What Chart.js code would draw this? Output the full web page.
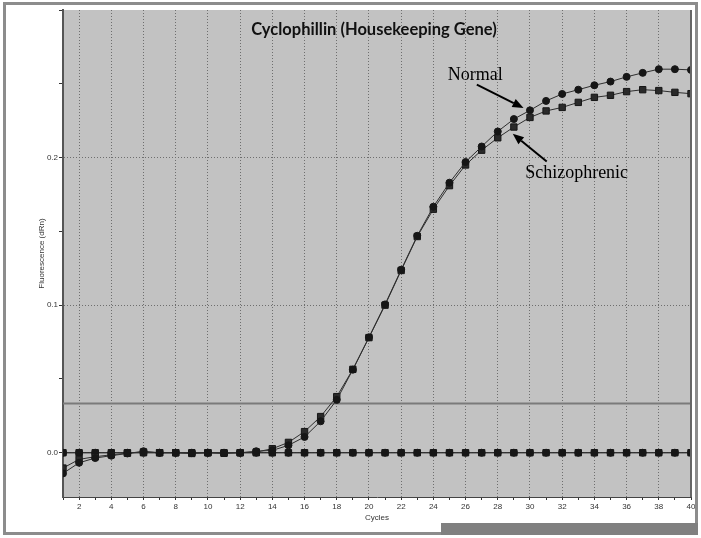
<!DOCTYPE html>
<html>
<head>
<meta charset="utf-8">
<title>Cyclophillin (Housekeeping Gene)</title>
<script src="https://cdn.jsdelivr.net/npm/chart.js@4/dist/chart.umd.min.js"></script>
<style>
  html, body { margin: 0; padding: 0; background: #fff; }
  #wrap { width: 701px; height: 538px; }
</style>
</head>
<body>
<div id="wrap"><canvas id="qpcrChart" width="701" height="538"></canvas></div>
<script>
// amplification data (dRn per cycle)
const cycles = [1, 2, 3, 4, 5, 6, 7, 8, 9, 10, 11, 12, 13, 14, 15, 16, 17, 18, 19, 20,
                21, 22, 23, 24, 25, 26, 27, 28, 29, 30, 31, 32, 33, 34, 35, 36, 37, 38, 39, 40];

const normalRn = [-0.014, -0.0068, -0.0036, -0.002, -0.0005, 0.001, 0, 0, -0.0003, 0,
                  -0.0003, 0, 0.001, 0.0016, 0.005, 0.0107, 0.0213, 0.0358, 0.0563, 0.0782,
                  0.1005, 0.124, 0.147, 0.1667, 0.183, 0.197, 0.2075, 0.2177, 0.2261, 0.232,
                  0.2384, 0.2431, 0.246, 0.249, 0.2515, 0.2547, 0.2574, 0.2599, 0.2599, 0.2594];

const schizoRn = [-0.0104, -0.0045, -0.0027, -0.0014, -0.0003, 0.0005, 0, 0, -0.0005, 0,
                  -0.0004, 0, 0.0005, 0.0027, 0.007, 0.0143, 0.0245, 0.038, 0.0565, 0.078,
                  0.1, 0.1235, 0.1465, 0.165, 0.181, 0.195, 0.205, 0.2134, 0.2207, 0.2272,
                  0.2316, 0.234, 0.2374, 0.2408, 0.2422, 0.2447, 0.246, 0.2454, 0.2442, 0.2433];

// no-template controls, flat on the baseline
const ntcRn = [0, 0, 0, 0, 0, 0, 0, 0, 0, 0, 0, 0, 0, 0, 0, 0, 0, 0, 0, 0,
               0, 0, 0, 0, 0, 0, 0, 0, 0, 0, 0, 0, 0, 0, 0, 0, 0, 0, 0, 0];

const thresholdRn = 0.0333;
const labelledY = [0, 0.1, 0.2];

const gridGray = '#6e6e6e';
const markColor = '#161616';
const lineColor = '#2e2e2e';

// labels with arrows, in data coordinates
const notes = [
  { text: 'Normal', at: [24.9, 0.2525], from: [26.7, 0.2494], to: [29.6, 0.2336] },
  { text: 'Schizophrenic', at: [29.7, 0.1862], from: [31.04, 0.1973], to: [28.93, 0.2161] }
];

function drawArrow(ctx, x0, y0, x1, y1) {
  const ang = Math.atan2(y1 - y0, x1 - x0);
  const head = 11, half = 4.5;
  const bx = x1 - head * Math.cos(ang), by = y1 - head * Math.sin(ang);
  ctx.beginPath();
  ctx.moveTo(x0, y0);
  ctx.lineTo(bx, by);
  ctx.stroke();
  ctx.beginPath();
  ctx.moveTo(x1, y1);
  ctx.lineTo(bx + half * Math.sin(ang), by - half * Math.cos(ang));
  ctx.lineTo(bx - half * Math.sin(ang), by + half * Math.cos(ang));
  ctx.closePath();
  ctx.fill();
}

const plotDecor = {
  id: 'plotDecor',
  beforeDraw(chart) {
    const { ctx, chartArea: a } = chart;
    ctx.save();
    ctx.fillStyle = '#c2c2c2';
    ctx.fillRect(a.left, a.top, a.right - a.left, a.bottom - a.top);
    ctx.restore();
  },
  afterDatasetsDraw(chart) {
    const { ctx, chartArea: a, scales } = chart;
    ctx.save();
    // right edge of plot
    ctx.strokeStyle = '#666';
    ctx.lineWidth = 2;
    ctx.beginPath();
    ctx.moveTo(a.right, a.top);
    ctx.lineTo(a.right, a.bottom);
    ctx.stroke();

    // chart title inside the plot
    ctx.fillStyle = '#111';
    ctx.font = 'bold 16.5px Lato, "Open Sans", sans-serif';
    ctx.textAlign = 'center';
    ctx.textBaseline = 'middle';
    ctx.fillText('Cyclophillin (Housekeeping Gene)', (a.left + a.right) / 2 - 3, a.top + 20);

    // annotations
    ctx.font = '18px "Liberation Serif", "Times New Roman", serif';
    ctx.textAlign = 'left';
    ctx.textBaseline = 'alphabetic';
    ctx.strokeStyle = '#000';
    ctx.fillStyle = '#000';
    ctx.lineWidth = 2;
    notes.forEach(n => {
      const px = v => scales.x.getPixelForValue(v);
      const py = v => scales.y.getPixelForValue(v);
      ctx.fillText(n.text, px(n.at[0]), py(n.at[1]));
      drawArrow(ctx, px(n.from[0]), py(n.from[1]), px(n.to[0]), py(n.to[1]));
    });
    ctx.restore();
  },
  afterDraw(chart) {
    const { ctx } = chart;
    ctx.save();
    ctx.fillStyle = '#8c8c8c';
    ctx.fillRect(3, 2, 695, 3);
    ctx.fillRect(3, 2, 3, 532);
    ctx.fillRect(695, 2, 3, 532);
    ctx.fillRect(3, 532, 440, 3);
    ctx.fillStyle = '#808080';
    ctx.fillRect(441, 523, 257, 12);
    ctx.restore();
  }
};

const tickFont = { family: '"Liberation Sans", Arial, sans-serif', size: 8 };

new Chart(document.getElementById('qpcrChart').getContext('2d'), {
  type: 'line',
  data: {
    labels: cycles,
    datasets: [
      {
        label: 'Normal', data: normalRn, borderColor: lineColor, borderWidth: 1,
        pointStyle: 'circle', pointRadius: 3.5, pointBackgroundColor: markColor, pointBorderColor: markColor,
        tension: 0
      },
      {
        label: 'Schizophrenic', data: schizoRn, borderColor: lineColor, borderWidth: 1,
        pointStyle: 'rect', pointRadius: 4.5, pointBackgroundColor: '#2a2a2a', pointBorderColor: markColor,
        tension: 0
      },
      {
        label: 'NTC 1', data: ntcRn, borderColor: lineColor, borderWidth: 1,
        pointStyle: 'circle', pointRadius: 3.5, pointBackgroundColor: markColor, pointBorderColor: markColor,
        tension: 0
      },
      {
        label: 'NTC 2', data: ntcRn, borderColor: lineColor, borderWidth: 1,
        pointStyle: 'rect', pointRadius: 4.5, pointBackgroundColor: '#2a2a2a', pointBorderColor: markColor,
        tension: 0
      },
      {
        label: 'Threshold', data: [{ x: cycles[0], y: thresholdRn }, { x: cycles[cycles.length - 1], y: thresholdRn }],
        borderColor: '#7a7a7a', borderWidth: 2, pointRadius: 0, tension: 0
      }
    ]
  },
  options: {
    responsive: false,
    animation: false,
    layout: { padding: { left: 0, right: 10, top: 10, bottom: 0 } },
    plugins: { legend: { display: false }, tooltip: { enabled: false } },
    scales: {
      x: {
        type: 'linear', min: 1, max: 40,
        afterFit: s => { s.height = 41; },
        ticks: {
          stepSize: 1, autoSkip: false, maxRotation: 0, color: '#333', font: tickFont, padding: 2,
          callback: v => (v % 2 === 0 ? String(v) : '')
        },
        grid: {
          color: c => (c.tick && c.tick.value % 2 === 0 ? gridGray : 'rgba(0,0,0,0)'),
          tickColor: '#333', tickLength: 3, lineWidth: 1
        },
        border: { color: '#444', width: 1, dash: [1, 2] },
        title: { display: true, text: 'Cycles', color: '#333', font: tickFont, padding: { top: 0, bottom: 15 } }
      },
      y: {
        min: -0.03, max: 0.3,
        afterFit: s => { s.width = 63; },
        ticks: {
          stepSize: 0.05, includeBounds: false, color: '#333', font: tickFont, padding: 1,
          callback: v => {
            const hit = labelledY.find(t => Math.abs(t - v) < 1e-6);
            return hit === undefined ? '' : hit.toFixed(1);
          }
        },
        grid: {
          color: c => (c.tick && labelledY.some(t => Math.abs(t - c.tick.value) < 1e-6) ? gridGray : 'rgba(0,0,0,0)'),
          tickColor: '#333', tickLength: 4, lineWidth: 1
        },
        border: { color: '#555', width: 2, dash: [1, 2] },
        title: { display: true, text: 'Fluorescence (dRn)', color: '#333', font: tickFont, padding: { top: 37, bottom: 0 } }
      }
    }
  },
  plugins: [plotDecor]
});
</script>
</body>
</html>
